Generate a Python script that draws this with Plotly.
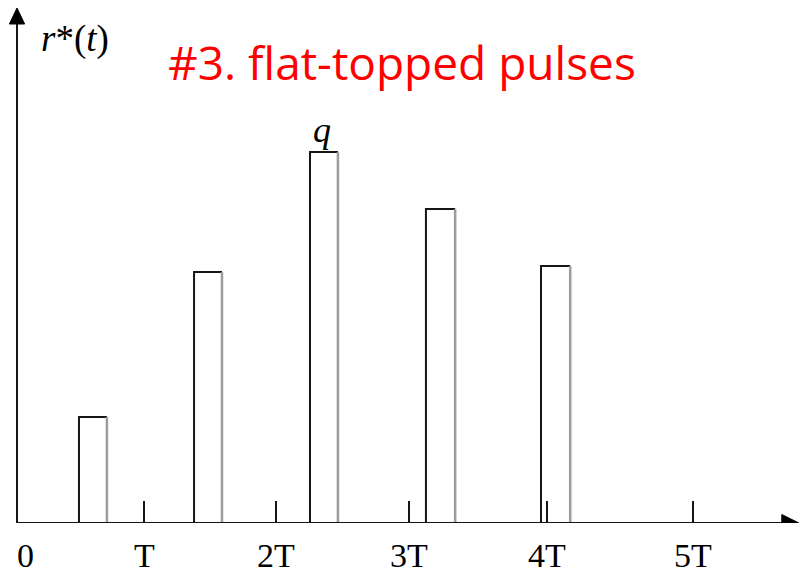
import plotly.graph_objects as go

# Sampling instants (in units of T) and pulse data
tick_pos = [1.0, 2.04, 3.09, 4.17, 5.32]
tick_labels = ["T", "2T", "3T", "4T", "5T"]
origin_label = "0"

pulse_start = [0.488, 1.394, 2.307, 3.220, 4.126]
pulse_width = [0.22, 0.22, 0.22, 0.23, 0.23]
pulse_height = [1.06, 2.51, 3.71, 3.14, 2.57]
peak_index = 2  # pulse labelled q

title_text = "#3. flat-topped pulses"
y_label = "<i>r</i>*(<i>t</i>)"

X_RANGE = [-17 / 127, 783 / 127]
Y_RANGE = [0, 5.23]
X_TIP = 6.157
Y_TIP = 5.15

DARK = "#161616"
GREY = "#9c9c9c"

fig = go.Figure()

for x0, w, h in zip(pulse_start, pulse_width, pulse_height):
    x1 = x0 + w
    # left edge and flat top
    fig.add_trace(go.Scatter(x=[x0, x0, x1], y=[0, h, h], mode="lines",
                             line=dict(color=DARK, width=2), hoverinfo="skip",
                             showlegend=False))
    # trailing edge
    fig.add_trace(go.Scatter(x=[x1, x1], y=[h, 0], mode="lines",
                             line=dict(color=GREY, width=2.5), hoverinfo="skip",
                             showlegend=False))

shapes = [
    # horizontal time axis
    dict(type="line", xref="x", yref="y", x0=0, y0=0, x1=X_TIP - 0.12, y1=0,
         line=dict(color=DARK, width=2)),
    dict(type="path", xref="x", yref="y",
         path=f"M {X_TIP},0 L {X_TIP - 0.135},0.085 L {X_TIP - 0.135},-0.085 Z",
         fillcolor="black", line=dict(color="black", width=1)),
    # vertical axis
    dict(type="line", xref="x", yref="y", x0=0, y0=0, x1=0, y1=Y_TIP - 0.12,
         line=dict(color=DARK, width=2)),
    dict(type="path", xref="x", yref="y",
         path=f"M 0,{Y_TIP} L -0.06,{Y_TIP - 0.16} L 0.06,{Y_TIP - 0.16} Z",
         fillcolor="black", line=dict(color="black", width=1)),
]

serif = "Liberation Serif"
annotations = []
for xv, lab in zip(tick_pos, tick_labels):
    annotations.append(dict(x=xv, y=0, xref="x", yref="y", text=lab,
                            showarrow=False, yanchor="middle", yshift=-32,
                            font=dict(family=serif, size=34, color="black")))
annotations.append(dict(x=0, y=0, xref="x", yref="y", text=origin_label,
                        showarrow=False, yanchor="middle", yshift=-32, xshift=8,
                        font=dict(family=serif, size=34, color="black")))
annotations.append(dict(x=0, y=Y_TIP, xref="x", yref="y", text=y_label,
                        showarrow=False, xanchor="left", yanchor="middle",
                        xshift=22, yshift=-31,
                        font=dict(family=serif, size=37, color="black")))
annotations.append(dict(x=pulse_start[peak_index] + pulse_width[peak_index] / 2,
                        y=pulse_height[peak_index], xref="x", yref="y",
                        text="<i>q</i>", showarrow=False, yanchor="bottom",
                        xshift=-2, yshift=0,
                        font=dict(family=serif, size=36, color="black")))
annotations.append(dict(x=0.503, y=Y_RANGE[1] - 0.62, xref="paper", yref="y",
                        text=title_text, showarrow=False, yanchor="middle",
                        font=dict(family="Open Sans", size=46, color="#ff0000")))

fig.update_layout(
    width=800, height=575,
    margin=dict(l=0, r=0, t=0, b=0),
    paper_bgcolor="white", plot_bgcolor="white",
    shapes=shapes, annotations=annotations,
    xaxis=dict(range=X_RANGE, domain=[0, 1], showgrid=False, zeroline=False,
               showline=False, tickvals=tick_pos, ticks="inside", ticklen=22,
               tickwidth=2, tickcolor=DARK, showticklabels=False),
    yaxis=dict(range=Y_RANGE, domain=[52 / 575, 1], showgrid=False,
               zeroline=False, showline=False, showticklabels=False, ticks=""),
)

fig.write_html("out.html")
